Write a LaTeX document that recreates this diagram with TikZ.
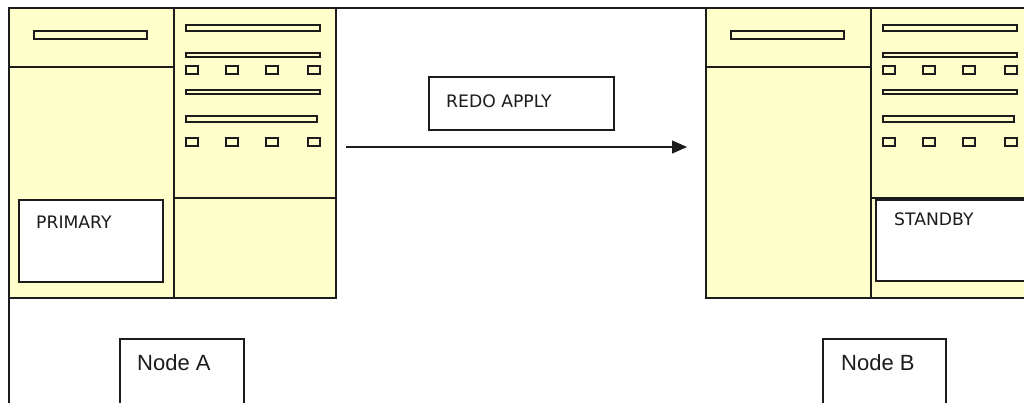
\documentclass[tikz,border=0pt]{standalone}
\usepackage{fontspec}
\newfontfamily\uifont{DejaVu Sans}
\newfontfamily\lblfont{Liberation Sans}
\usetikzlibrary{arrows.meta}
\definecolor{srvyellow}{HTML}{FFFFCC}
\definecolor{ink}{HTML}{1C1C1C}
\tikzset{
  body/.style={draw=ink, line width=1.3pt, fill=srvyellow},
  divider/.style={draw=ink, line width=1.3pt},
  bar/.style={draw=ink, line width=1.2pt, fill=srvyellow},
  slot/.style={draw=ink, line width=1.2pt, fill=srvyellow},
  textbox/.style={draw=ink, line width=1.2pt, fill=white, outer sep=0pt, inner sep=0pt, anchor=north west},
  uitext/.style={font=\uifont\fontsize{17.2}{20}\selectfont, text=ink, anchor=base west, inner sep=0pt},
  lbltext/.style={font=\lblfont\fontsize{22}{26}\selectfont, text=ink, anchor=base west, inner sep=0pt},
  frame/.style={draw=ink, line width=1.2pt},
  flow/.style={draw=ink, line width=1.2pt, -{Triangle[length=15pt,width=13pt]}},
  server/.pic={
    \node[body, outer sep=0pt, inner sep=0pt, minimum width=327pt, minimum height=290pt, anchor=north west] (-body) at (0,0) {};
    \draw[divider] (165,0) -- (165,290);
    \draw[divider] (0,59) -- (165,59);
    \draw[divider] (165,190) -- (327,190);
    \draw[bar] (25,23) rectangle (138,31);
    \draw[bar] (177,17) rectangle (311,23);
    \draw[bar] (177,45) rectangle (311,49);
    \draw[bar] (177,82) rectangle (311,86);
    \draw[bar] (177,108) rectangle (308,114);
    \foreach \sx in {177,217,257,299}{
      \draw[slot] (\sx,58) rectangle ++(12,8);
      \draw[slot] (\sx,130) rectangle ++(12,8);
    }
  }
}
\begin{document}
\begin{tikzpicture}[x=1pt,y=-1pt]
\path[use as bounding box] (0,0) rectangle (1024,402);
\clip (0,0) rectangle (1024,402);
\fill[white] (0,0) rectangle (1024,402);
% outer frame
\draw[frame] (1030,8) -- (9,8) -- (9,410);
% servers
\pic (primaryserver) at (9,8) {server};
\pic (standbyserver) at (706,8) {server};
% role boxes
\node[textbox, minimum width=144pt, minimum height=82pt] (primary) at (19,200) {};
\node[uitext] (primarytext) at (36,228) {PRIMARY};
\node[textbox, minimum width=170pt, minimum height=81pt] (standby) at (876,200) {};
\node[uitext] (standbytext) at (894,225) {STANDBY};
% redo apply
\node[textbox, minimum width=185pt, minimum height=53pt] (redo) at (429,77) {};
\node[uitext] (redotext) at (446,107) {REDO APPLY};
\coordinate (flowstart) at (346,147);
\coordinate (flowend) at (687,147);
\draw[flow] (flowstart) -- (flowend);
% node labels
\node[textbox, minimum width=124pt, minimum height=90pt] (nodea) at (120,339) {};
\node[lbltext] (nodeatext) at (137,370) {Node A};
\node[textbox, minimum width=123pt, minimum height=90pt] (nodeb) at (823,339) {};
\node[lbltext] (nodebtext) at (841,370) {Node B};
\end{tikzpicture}
\end{document}
